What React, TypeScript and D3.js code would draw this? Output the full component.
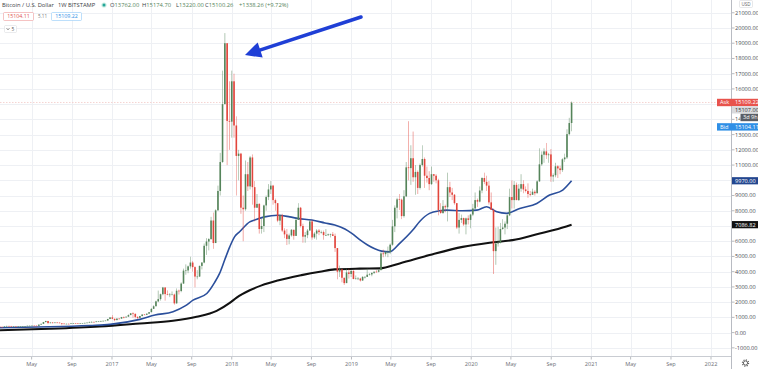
import React from 'react';
import * as d3 from 'd3';

const W = 758;
const H = 369;
const PLOT_R = 731;
const PLOT_B = 356;

// Weekly candles (week start Monday), open = previous close
const firstWeek = '2016-01-18';
const firstOpen = 382;
const weekCloses = [
  395,377,376,407,438,433,404,412,410,416,
  418,420,428,449,451,458,455,442,525,575,
  690,760,630,660,650,662,655,624,590,570,
  580,570,605,608,607,600,612,617,640,655,
  700,703,702,730,735,765,775,790,895,1000,
  905,820,920,915,1020,1000,1045,1150,1270,1230,
  1030,965,1090,1185,1170,1240,1340,1560,1730,2050,
  2200,2520,2960,2530,2500,2500,2500,1920,2750,2730,
  3220,4070,4080,4350,4600,4300,3680,3680,4380,4600,
  5700,5980,6140,7360,5880,8030,9300,11200,15000,19000,
  13900,13850,
  16500,13600,11600,11750,8200,8100,10400,9600,11500,9550,
  8200,8450,6800,7000,8350,8900,9400,9650,8700,8500,
  7350,7700,6700,6450,6150,6380,6750,6350,7400,8200,
  7000,6300,6400,6700,7300,6250,6500,6700,6600,6600,
  6400,6400,6450,6450,6350,5550,4000,4150,3600,3250,
  3950,3850,
  4050,3520,3550,3550,3420,3660,3660,3800,3820,3920,
  4000,3990,4100,5200,5150,5300,5300,5770,6980,8200,
  8750,8730,7650,8950,10850,10800,11450,10200,10550,9500,
  11000,11400,10300,10150,9750,10400,10300,10000,8050,7850,
  8300,8230,9550,9200,9050,8500,6900,7400,7520,7100,
  7500,7400,
  7750,8150,8700,8600,9330,10150,9900,9650,8550,8050,
  5350,5850,5900,6800,6900,7150,7700,8900,8700,9700,
  8700,9450,9750,9400,9300,9100,9050,9250,9150,9930,
  11050,11680,11900,11650,11700,10250,10330,10920,10780,10670,
  11380,11500,13030,13760,15100,
];
const weekHighs = [
  410,397,392,410,445,440,440,418,418,420,
  425,425,430,452,468,462,462,458,530,590,
  700,780,770,700,690,680,675,660,625,600,
  585,585,610,630,612,608,615,620,642,655,
  715,740,720,750,745,770,780,795,900,1005,
  1150,925,930,935,1030,1060,1055,1200,1280,1330,
  1260,1070,1100,1210,1215,1260,1350,1600,1800,2100,
  2760,2560,3000,2980,2770,2600,2700,2560,2900,2820,
  3300,4200,4480,4400,4980,4700,4350,4100,4400,4620,
  5850,6200,6200,7600,7880,8100,9650,11800,17200,19666,
  19000,16500,
  17200,17000,14200,12000,11800,9000,11300,11200,11600,11700,
  9950,9100,8500,7500,8400,9000,9750,9950,9700,8800,
  8500,7750,7800,6850,6800,6500,6800,6750,7550,8500,
  8250,7150,6600,6800,7400,7400,6600,6800,6800,6700,
  6700,6800,6500,6500,6600,6500,5550,4400,4200,3600,
  4200,4200,
  4100,4100,3750,3650,3600,3700,3700,4200,3900,3950,
  4000,4100,4150,5300,5450,5350,5650,5850,7400,8350,
  8850,9100,8800,9350,11200,13880,12300,13200,11000,10650,
  11100,12300,11500,10900,10600,10900,10400,10400,10100,8500,
  8700,8400,10500,9900,9500,9100,8500,7850,7750,7550,
  7550,7700,
  7800,8450,9200,8800,9600,10200,10500,10300,9950,9200,
  8150,6900,6950,7200,7450,7300,7800,9450,10000,9950,
  9850,9750,10400,10000,9600,9800,9300,9450,9350,10000,
  12100,11900,12100,12450,11800,12050,10450,11150,10990,10950,
  11450,11750,13350,14100,15175,
];
const weekLows = [
  375,365,362,370,400,405,398,400,405,405,
  410,415,418,425,445,440,448,436,438,520,
  570,680,550,610,610,645,648,618,480,565,
  565,565,565,600,600,595,598,605,615,630,
  650,680,700,690,725,725,750,770,790,880,
  880,750,820,880,915,930,990,1045,1150,980,
  940,890,960,1060,1160,1160,1240,1340,1550,1730,
  2000,2100,2450,2100,2450,2330,2480,1830,1900,2500,
  2650,3200,3800,3900,4200,4000,2970,3500,3650,4150,
  4550,5100,5400,6100,5500,5900,8000,9000,11150,15000,
  11000,12000,
  12800,12800,9000,10000,7800,6000,8000,9300,9400,8400,
  7300,8300,6500,6500,6600,8000,8700,9100,8400,8000,
  7250,7050,6600,6200,5750,5800,6300,6100,6350,7400,
  6900,5900,5900,6200,6700,6100,6150,6100,6400,6500,
  6100,6350,6350,6250,6350,5300,3500,3650,3300,3130,
  3250,3550,
  3650,3500,3500,3450,3350,3400,3550,3650,3750,3700,
  3850,3950,3950,4100,4950,5000,4950,5150,5700,6600,
  7500,8050,7450,7550,8900,10000,9700,9900,9050,9100,
  9400,10900,9500,9850,9350,9700,9900,9800,7700,7800,
  7800,7900,7300,8900,8700,8400,6800,6500,7200,7000,
  6450,7100,
  6850,7650,8100,8250,8550,9150,9750,9300,8400,8050,
  3850,4450,5650,5850,6750,6450,6800,7650,8150,8150,
  8700,8650,9250,9150,9200,8850,8950,9050,9000,9150,
  9900,10950,11150,11400,11150,9900,9900,10200,10150,10400,
  10550,11200,11400,12950,13220,
];

// Moving averages
const blueMaDates = [
  '2016-01-18','2016-06-24','2016-10-25','2016-12-26','2017-03-27','2017-05-12','2017-07-06','2017-08-12',
  '2017-09-05','2017-10-17','2017-11-10','2017-11-25','2017-12-11','2017-12-26','2018-01-10','2018-01-25',
  '2018-02-25','2018-03-12','2018-04-11','2018-05-21','2018-06-27','2018-07-21','2018-09-02','2018-10-12',
  '2018-11-11','2018-12-12','2019-01-02','2019-01-26','2019-02-19','2019-03-13','2019-04-03','2019-04-27',
  '2019-05-28','2019-07-07','2019-07-28','2019-08-27','2019-09-27','2019-10-18','2019-12-06','2020-01-18',
  '2020-02-17','2020-03-19','2020-04-18','2020-05-28','2020-07-19','2020-08-27','2020-10-06','2020-11-02',
];
const blueMaValues = [
  320,380,470,540,870,1150,1370,1750,
  2130,2570,3300,3890,4800,5630,6300,6620,
  7270,7390,7600,7710,7600,7500,7390,7200,
  7060,6800,6510,6100,5750,5500,5350,5300,
  5860,6730,7300,7830,8000,8040,8000,8040,
  8260,7930,7830,8150,8480,9030,9360,9970,
];
const blackMaDates = [
  '2016-01-18','2016-06-24','2016-11-24','2017-03-27','2017-07-06','2017-09-16','2017-11-16','2017-12-26',
  '2018-01-16','2018-02-25','2018-04-02','2018-05-21','2018-08-02','2018-09-27','2018-11-11','2019-01-26',
  '2019-03-28','2019-05-28','2019-08-27','2019-12-06','2020-02-26','2020-05-06','2020-07-28','2020-09-12',
  '2020-11-02',
];
const blackMaValues = [
  150,250,400,600,775,1040,1430,1950,
  2300,2780,3100,3420,3775,4000,4150,4200,
  4215,4540,5090,5630,5900,6070,6510,6750,
  7087,
];

const priceTicks = [-1000,0,1000,2000,3000,4000,5000,6000,7000,8000,9000,10000,11000,12000,13000,14000,15000,16000,17000,18000,19000,20000,21000];
const timeTickDates = ['2016-05-01','2016-09-01','2017-01-01','2017-05-01','2017-09-01','2018-01-01','2018-05-01','2018-09-01','2019-01-01','2019-05-01','2019-09-01','2020-01-01','2020-05-01','2020-09-01','2021-01-01','2021-05-01','2021-09-01','2022-01-01'];
const timeTickLabels = ['May','Sep','2017','May','Sep','2018','May','Sep','2019','May','Sep','2020','May','Sep','2021','May','Sep','2022'];

const askPrice = 15109.22;
const bidPrice = 15104.11;
const lastPrice = 15107.0;
const blueLast = 9970.0;
const blackLast = 7086.82;

const parse = (s: string) => {
  const [y, m, d] = s.split('-').map(Number);
  return new Date(y, m - 1, d);
};

const UP = '#55845a';
const DOWN = '#e2453c';
const FONT = '"Open Sans", "DejaVu Sans", sans-serif';

export default function App() {
  const x = d3.scaleTime().domain([new Date(2017, 0, 1), new Date(2022, 0, 1)]).range([112, 711]);
  const y = d3.scaleLinear().domain([0, 21000]).range([332.6, 332.6 - 21000 * 0.01523]);

  const start = parse(firstWeek);
  const candles = weekCloses.map((c, i) => {
    const o = i === 0 ? firstOpen : weekCloses[i - 1];
    const date = d3.timeWeek.offset(start, i);
    const h = Math.max(weekHighs[i], o, c);
    const l = Math.min(weekLows[i], o, c);
    return { date, o, c, h, l };
  });
  candles[candles.length - 1].o = 13762;

  const line = d3
    .line<[Date, number]>()
    .x((d) => x(d[0]))
    .y((d) => y(d[1]))
    .curve(d3.curveMonotoneX);
  const bluePath = line(blueMaDates.map((d, i) => [parse(d), blueMaValues[i]]));
  const blackPath = line(blackMaDates.map((d, i) => [parse(d), blackMaValues[i]]));

  const bodyW = 1.6;
  const labelFs = 5.6;

  // badges on the price scale (y centres)
  const askY = y(askPrice);
  const lastY = askY + 7.4;
  const timerY = lastY + 7.6;
  const bidY = timerY + 9.4;
  const blueY = y(blueLast);
  const blackY = y(blackLast);
  const badgeYs = [askY, lastY, bidY, blueY, blackY];

  // arrow geometry
  const tail = [361, 17];
  const tip = [245, 55];
  const dx = tip[0] - tail[0];
  const dy = tip[1] - tail[1];
  const len = Math.hypot(dx, dy);
  const ux = dx / len, uy = dy / len;
  const headL = 16, headW = 8;
  const bx = tip[0] - ux * headL, by = tip[1] - uy * headL;
  const px = -uy, py = ux;

  return (
    <svg
      width={W}
      height={H}
      viewBox={`0 0 ${W} ${H}`}
      style={{ position: 'fixed', left: 0, top: 0, background: '#fff' }}
    >
      <defs>
        <clipPath id="plot">
          <rect x={0} y={0} width={PLOT_R} height={PLOT_B} />
        </clipPath>
        <clipPath id="timerClip">
          <rect x={732} y={timerY - 4} width={8.3} height={8} />
        </clipPath>
      </defs>
      <rect x={0} y={0} width={W} height={H} fill="#fff" />

      {/* grid */}
      <g stroke="#eef0f4" strokeWidth={1}>
        {priceTicks.map((t) => (
          <line key={'h' + t} x1={0} x2={PLOT_R} y1={Math.round(y(t)) + 0.5} y2={Math.round(y(t)) + 0.5} />
        ))}
        {timeTickDates.map((d) => {
          const xx = Math.round(x(parse(d))) + 0.5;
          return <line key={'v' + d} x1={xx} x2={xx} y1={0} y2={PLOT_B} />;
        })}
      </g>

      {/* ask price line */}
      <line x1={0} x2={PLOT_R} y1={askY} y2={askY} stroke="#f3c9c6" strokeWidth={0.8} strokeDasharray="1.5 1.5" />

      <g clipPath="url(#plot)">
        <path d={blackPath || ''} fill="none" stroke="#111" strokeWidth={2.1} />
        <path d={bluePath || ''} fill="none" stroke="#2b4f9c" strokeWidth={1.6} />
        {candles.map((k, i) => {
          const cx = x(k.date);
          const col = k.c >= k.o ? UP : DOWN;
          const top = y(Math.max(k.o, k.c));
          const bot = y(Math.min(k.o, k.c));
          return (
            <g key={i}>
              <line x1={cx} x2={cx} y1={y(k.h)} y2={y(k.l)} stroke={col} strokeWidth={0.6} opacity={0.75} />
              <rect x={cx - bodyW / 2} y={top} width={bodyW} height={Math.max(0.6, bot - top)} fill={col} />
            </g>
          );
        })}
      </g>

      {/* arrow */}
      <line x1={tail[0]} y1={tail[1]} x2={bx + ux * 2} y2={by + uy * 2} stroke="#1f3fd6" strokeWidth={3.6} strokeLinecap="round" />
      <polygon
        points={`${tip[0]},${tip[1]} ${bx + px * headW},${by + py * headW} ${bx - px * headW},${by - py * headW}`}
        fill="#1f3fd6"
      />

      {/* axes borders */}
      <line x1={0} x2={PLOT_R} y1={PLOT_B + 0.5} y2={PLOT_B + 0.5} stroke="#c9ccd2" strokeWidth={1} />
      <line x1={PLOT_R + 0.5} x2={PLOT_R + 0.5} y1={0} y2={H} stroke="#b8bbc2" strokeWidth={1} />

      {/* right axis labels (those hidden behind badges are not drawn) */}
      <g fontFamily={FONT} fontSize={labelFs} fill="#4a4d55">
        {priceTicks.map((t) => {
          const yy = y(t);
          const hidden = badgeYs.some((b) => Math.abs(b - yy) < 6.2);
          const partial = Math.abs(timerY - yy) < 4;
          return (
            <g key={'p' + t}>
              <line x1={PLOT_R + 1} x2={PLOT_R + 3.5} y1={yy} y2={yy} stroke="#9a9da5" strokeWidth={0.7} />
              {!hidden && (
                <text x={735} y={yy} dy="0.35em" clipPath={partial ? 'url(#timerClip)' : undefined}>
                  {partial ? String(t).slice(0, 2) : d3.format('.2f')(t).replace('−', '-')}
                </text>
              )}
            </g>
          );
        })}
      </g>

      {/* price badges */}
      <g fontFamily={FONT} fontSize={labelFs}>
        <rect x={717} y={askY - 3.7} width={W - 717} height={7.4} fill="#e8534c" />
        <text x={720} y={askY} dy="0.35em" fill="#fff">Ask</text>
        <text x={735} y={askY} dy="0.35em" fill="#fff">{askPrice.toFixed(2)}</text>

        <rect x={732} y={lastY - 3.6} width={W - 732} height={7.2} fill="#d9dadd" />
        <text x={735} y={lastY} dy="0.35em" fill="#333">{lastPrice.toFixed(2)}</text>

        <rect x={740.5} y={timerY - 3.7} width={W - 740.5} height={7.4} fill="#5b5e66" />
        <text x={743} y={timerY} dy="0.35em" fill="#fff">3d 9h</text>

        <rect x={717} y={bidY - 3.7} width={W - 717} height={7.4} fill="#2f8fe6" />
        <text x={720} y={bidY} dy="0.35em" fill="#fff">Bid</text>
        <text x={735} y={bidY} dy="0.35em" fill="#fff">{bidPrice.toFixed(2)}</text>

        <rect x={732} y={blueY - 3.6} width={W - 732} height={7.2} fill="#23468f" />
        <text x={735} y={blueY} dy="0.35em" fill="#fff">{blueLast.toFixed(2)}</text>

        <rect x={732} y={blackY - 3.6} width={W - 732} height={7.2} fill="#111" />
        <text x={735} y={blackY} dy="0.35em" fill="#fff">{blackLast.toFixed(2)}</text>
      </g>

      {/* USD */}
      <rect x={739.5} y={0.5} width={13} height={7} fill="#fff" stroke="#d6d8dc" strokeWidth={0.6} rx={1} />
      <text x={746} y={4.2} dy="0.35em" textAnchor="middle" fontSize={4.6} fill="#666" fontFamily={FONT}>USD</text>

      {/* bottom axis */}
      <g fontFamily={FONT} fontSize={labelFs} fill="#6b6e76">
        {timeTickDates.map((d, i) => {
          const xx = x(parse(d));
          return (
            <g key={'t' + d}>
              <line x1={xx} x2={xx} y1={PLOT_B + 1} y2={PLOT_B + 3.5} stroke="#9a9da5" strokeWidth={0.7} />
              <text x={xx} y={364.5} dy="0.35em" textAnchor="middle">{timeTickLabels[i]}</text>
            </g>
          );
        })}
      </g>

      {/* gear */}
      <circle cx={745.5} cy={363} r={2.1} fill="none" stroke="#555" strokeWidth={0.9} />
      <circle cx={745.5} cy={363} r={3.1} fill="none" stroke="#555" strokeWidth={1.1} strokeDasharray="1.1 1.33" />

      {/* header */}
      <g fontFamily={FONT} fontSize={5.8}>
        <text x={2} y={5} dy="0.35em" fill="#3b3e45">Bitcoin / U.S. Dollar</text>
        <text x={58} y={5} dy="0.35em" fill="#3b3e45">1W</text>
        <text x={68} y={5} dy="0.35em" fill="#3b3e45">BITSTAMP</text>
        <circle cx={104} cy={5} r={2.6} fill="#c8ece1" />
        <circle cx={104} cy={5} r={1.5} fill="#26a69a" />
        <text x={110} y={5} dy="0.35em" fill="#3b3e45">
          O<tspan fill={UP}>13762.00</tspan>
        </text>
        <text x={142} y={5} dy="0.35em" fill="#3b3e45">
          H<tspan fill={UP}>15174.70</tspan>
        </text>
        <text x={176} y={5} dy="0.35em" fill="#3b3e45">
          L<tspan fill={UP}>13220.00</tspan>
        </text>
        <text x={205} y={5} dy="0.35em" fill="#3b3e45">
          C<tspan fill={UP}>15100.26</tspan>
        </text>
        <text x={239} y={5} dy="0.35em" fill={UP}>+1338.26 (+9.72%)</text>

        <rect x={3.5} y={12.5} width={30} height={8} fill="#fff" stroke="#ef9a9a" strokeWidth={0.6} rx={1} />
        <text x={18.5} y={16.5} dy="0.35em" textAnchor="middle" fill="#e0534f" fontSize={5.3}>15104.11</text>
        <text x={38} y={16.5} dy="0.35em" fill="#777" fontSize={4.6}>5.11</text>
        <rect x={51.5} y={12.5} width={30} height={8} fill="#fff" stroke="#90caf9" strokeWidth={0.6} rx={1} />
        <text x={66.5} y={16.5} dy="0.35em" textAnchor="middle" fill="#2f8fe6" fontSize={5.3}>15109.22</text>

        <rect x={4.5} y={25.5} width={12} height={7} fill="#fff" stroke="#dcdde0" strokeWidth={0.6} rx={1} />
        <polyline points="6.6,28.2 8,29.8 9.4,28.2" fill="none" stroke="#555" strokeWidth={0.7} />
        <text x={11.5} y={29} dy="0.35em" fill="#555" fontSize={4.8}>5</text>
      </g>
    </svg>
  );
}
